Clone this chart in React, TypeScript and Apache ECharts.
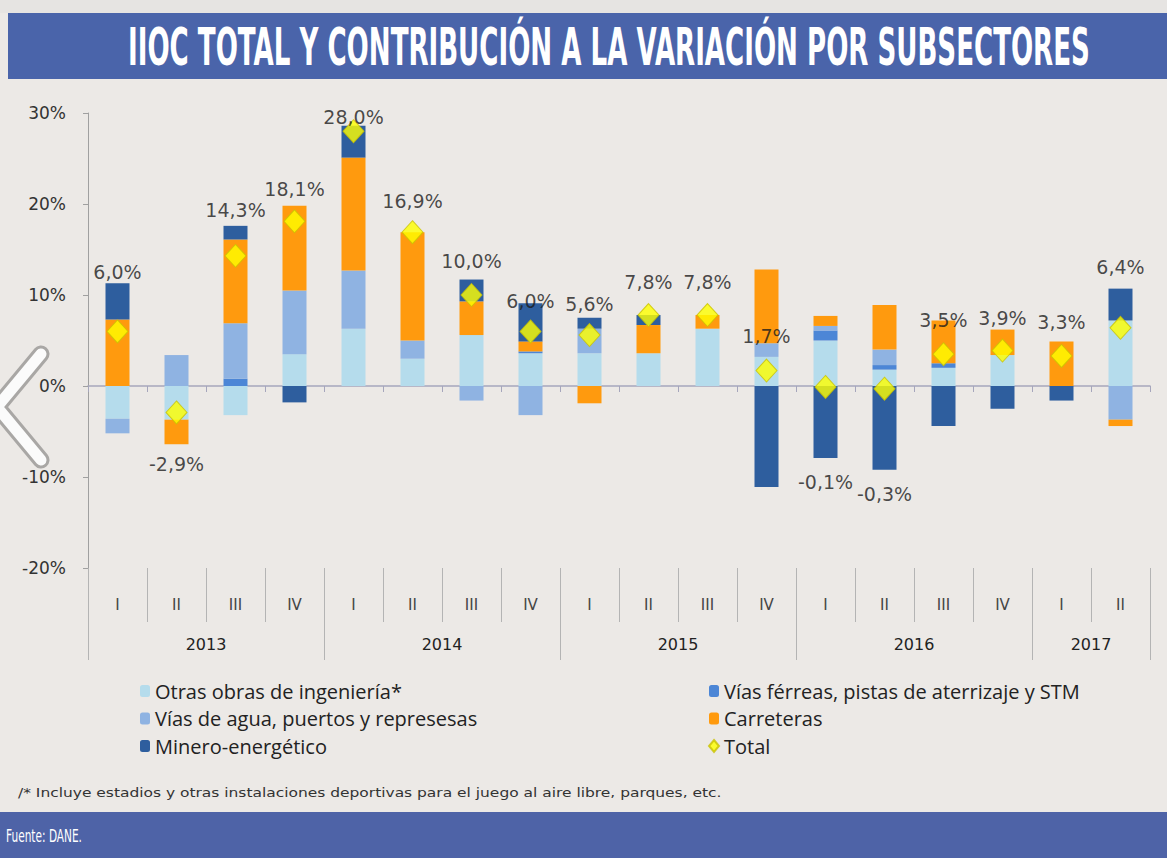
import React, { useEffect, useRef } from "react";
import * as echarts from "echarts";

// ---- data (percent points) ----
const quarters = ["I", "II", "III", "IV", "I", "II", "III", "IV", "I", "II", "III", "IV", "I", "II", "III", "IV", "I", "II"];
const years = ["2013", "2014", "2015", "2016", "2017"];
const quartersPerYear = [4, 4, 4, 4, 2];

const otras = [-3.6, -3.7, -3.2, 3.5, 6.3, 3.0, 5.6, 3.6, 3.6, 3.6, 6.3, 3.2, 5.0, 1.8, 2.0, 3.4, 0, 7.2];
const ferreas = [0, 0, 0.8, 0, 0, 0, 0, 0.2, 0, 0, 0, 0, 1.1, 0.5, 0.5, 0, 0, 0];
const agua = [-1.6, 3.4, 6.1, 7.0, 6.4, 2.0, -1.6, -3.2, 2.7, 0, 0, 1.5, 0.5, 1.7, 0, 0, 0, -3.7];
const carreteras = [7.3, -2.7, 9.2, 9.3, 12.4, 11.9, 3.7, 1.1, -1.9, 3.1, 1.5, 8.1, 1.1, 4.9, 4.7, 2.8, 4.9, -0.7];
const minero = [4.0, 0, 1.5, -1.8, 3.5, 0, 2.4, 4.2, 1.2, 1.1, 0, -11.1, -7.9, -9.2, -4.4, -2.5, -1.6, 3.5];
const total = [6.0, -2.9, 14.3, 18.1, 28.0, 16.9, 10.0, 6.0, 5.6, 7.8, 7.8, 1.7, -0.1, -0.3, 3.5, 3.9, 3.3, 6.4];

const yTicks = [-20, -10, 0, 10, 20, 30];

// label vertical offsets (style only)
const labelDy = [-59, 52, -46, -32, -14, -31, -34, -30, -31, -33, -33, -35, 95, 105, -34, -33, -34, -61];

const TITLE = "IIOC TOTAL Y CONTRIBUCIÓN A LA VARIACIÓN POR SUBSECTORES";
const FOOTNOTE = "/* Incluye estadios y otras instalaciones deportivas para el juego al aire libre, parques, etc.";
const SOURCE = "Fuente: DANE.";

const NAMES = {
  otras: "Otras obras de ingeniería*",
  ferreas: "Vías férreas, pistas de aterrizaje y STM",
  agua: "Vías de agua, puertos y represesas",
  carreteras: "Carreteras",
  minero: "Minero-energético",
  total: "Total",
};

const COLORS = {
  otras: "#b5dcec",
  ferreas: "#4c86d6",
  agua: "#8fb3e2",
  carreteras: "#ff9a0e",
  minero: "#2e5e9e",
  total: "#ffff00",
};

function measure(font: string, text: string): number {
  const c = document.createElement("canvas").getContext("2d");
  if (!c) return 1;
  c.font = font;
  return c.measureText(text).width || 1;
}

export default function App() {
  const ref = useRef<HTMLDivElement>(null);

  useEffect(() => {
    if (!ref.current) return;
    const chart = echarts.init(ref.current, null, { renderer: "svg" });

    const categories = quarters.map((q, i) => `${i}-${q}`);
    const bounds: number[] = [0];
    const centers: number[] = [];
    quartersPerYear.forEach((n) => {
      const start = bounds[bounds.length - 1];
      centers.push(start + n / 2);
      bounds.push(start + n);
    });
    const nCat = quarters.length;

    const barSeries = (key: keyof typeof NAMES, data: number[]) => ({
      name: NAMES[key],
      type: "bar",
      stack: "s",
      barWidth: 24,
      data,
      itemStyle: { color: (COLORS as any)[key] },
      xAxisIndex: 0,
      yAxisIndex: 0,
    });

    const legendText = { fontFamily: "Open Sans", fontSize: 20, color: "#222", lineHeight: 20 };

    const titleFont = "bold 52px 'DejaVu Sans'";
    const titleScale = 962 / measure(titleFont, TITLE);
    const noteFont = "12px 'DejaVu Sans'";
    const noteScale = 704 / measure(noteFont, FOOTNOTE);
    const srcFont = "17px 'DejaVu Sans'";
    const srcScale = 76 / measure(srcFont, SOURCE);

    chart.setOption({
      animation: false,
      backgroundColor: "#ece9e6",
      grid: { left: 88, right: 17, top: 113, bottom: 290, containLabel: false },
      legend: [
        {
          orient: "vertical",
          left: 135,
          top: 676,
          itemWidth: 10,
          itemHeight: 12,
          itemGap: 7.5,
          textStyle: legendText,
          data: [NAMES.otras, NAMES.agua, NAMES.minero],
        },
        {
          orient: "vertical",
          left: 703,
          top: 676,
          itemWidth: 10,
          itemHeight: 12,
          itemGap: 7.5,
          textStyle: legendText,
          data: [NAMES.ferreas, NAMES.carreteras, { name: NAMES.total, icon: "diamond" }],
        },
      ],
      xAxis: [
        {
          type: "category",
          data: categories,
          position: "bottom",
          axisLine: { show: true, onZero: true, lineStyle: { color: "#a6a6bc", width: 1.5 } },
          axisTick: { show: true, length: 6, lineStyle: { color: "#a6a6bc" } },
          axisLabel: { show: false },
          splitLine: { show: false },
        },
        {
          type: "category",
          data: quarters,
          position: "bottom",
          axisLine: { show: false, onZero: false },
          axisTick: { show: true, length: 54, lineStyle: { color: "#b4b4b4" } },
          axisLabel: { show: true, margin: 29, fontFamily: "DejaVu Sans", fontSize: 15, color: "#444" },
          splitLine: { show: false },
        },
        {
          type: "value",
          min: 0,
          max: nCat,
          position: "bottom",
          axisLine: { show: false, onZero: false },
          axisTick: { show: true, length: 92, customValues: bounds, lineStyle: { color: "#b4b4b4" } },
          axisLabel: {
            show: true,
            margin: 68,
            customValues: centers,
            fontFamily: "DejaVu Sans",
            fontSize: 16,
            color: "#222",
            formatter: (v: number) => {
              const idx = centers.findIndex((c) => Math.abs(c - v) < 1e-6);
              return idx >= 0 ? years[idx] : "";
            },
          },
          splitLine: { show: false },
        },
      ],
      yAxis: {
        type: "value",
        min: yTicks[0],
        max: yTicks[yTicks.length - 1],
        interval: 10,
        axisLine: { show: true, lineStyle: { color: "#a0a0a0" } },
        axisTick: { show: true, length: 5, lineStyle: { color: "#a0a0a0" } },
        axisLabel: { formatter: "{value}%", fontFamily: "DejaVu Sans", fontSize: 17, color: "#333", margin: 22 },
        splitLine: { show: false },
      },
      series: [
        barSeries("otras", otras),
        barSeries("ferreas", ferreas),
        barSeries("agua", agua),
        barSeries("carreteras", carreteras),
        barSeries("minero", minero),
        {
          name: NAMES.total,
          type: "scatter",
          xAxisIndex: 0,
          yAxisIndex: 0,
          symbol: "diamond",
          symbolSize: [21, 23],
          z: 10,
          itemStyle: { color: COLORS.total, borderColor: "#c9c200", borderWidth: 1 },
          data: total.map((v, i) => ({
            value: v,
            label: { offset: [0, labelDy[i]] },
          })),
          label: {
            show: true,
            position: "inside",
            fontFamily: "DejaVu Sans",
            fontSize: 19,
            color: "#1c1c1c",
            formatter: (p: any) => `${p.value.toFixed(1).replace(".", ",")}%`,
          },
        },
      ],
      graphic: [
        { type: "rect", shape: { x: 0, y: 0, width: 1167, height: 13 }, style: { fill: "#e6e4e2" }, z: -1 },
        { type: "rect", shape: { x: 8, y: 13, width: 1159, height: 66 }, style: { fill: "#4a64aa" } },
        {
          type: "text",
          x: 128,
          y: 47,
          scaleX: titleScale,
          style: {
            text: TITLE,
            fill: "#ffffff",
            font: titleFont,
            textAlign: "left",
            textVerticalAlign: "middle",
          },
        },
        {
          type: "text",
          x: 18,
          y: 793,
          scaleX: noteScale,
          style: {
            text: FOOTNOTE,
            fill: "#333",
            font: noteFont,
            textVerticalAlign: "middle",
          },
        },
        { type: "rect", shape: { x: 0, y: 812, width: 1167, height: 46 }, style: { fill: "#4e63a7" } },
        {
          type: "text",
          x: 6,
          y: 836,
          scaleX: srcScale,
          style: {
            text: SOURCE,
            fill: "#ffffff",
            font: srcFont,
            textVerticalAlign: "middle",
          },
        },
        {
          type: "polyline",
          shape: { points: [[41, 354], [-3, 407], [41, 460]] },
          style: { stroke: "#a9a7a5", lineWidth: 17, lineCap: "round", lineJoin: "round", fill: null },
        },
        {
          type: "polyline",
          shape: { points: [[41, 354], [-3, 407], [41, 460]] },
          style: { stroke: "#fbfbfb", lineWidth: 11, lineCap: "round", lineJoin: "round", fill: null },
        },
      ],
    });

    return () => chart.dispose();
  }, []);

  return (
    <div
      ref={ref}
      style={{ position: "fixed", left: 0, top: 0, width: 1167, height: 858 }}
    />
  );
}
